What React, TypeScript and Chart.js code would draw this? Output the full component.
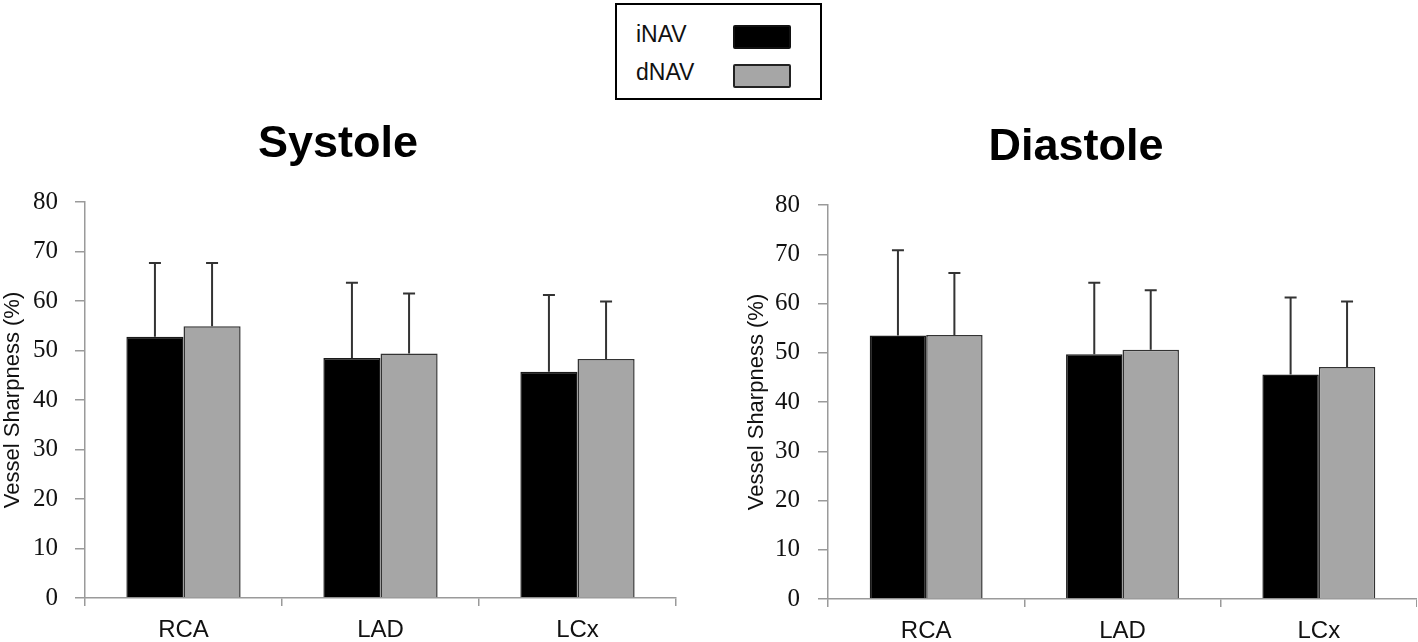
import React, { useEffect, useRef } from "react";
import { Chart, registerables } from "chart.js";

Chart.register(...registerables);

const categories = ["RCA", "LAD", "LCx"];
const seriesNames = ["iNAV", "dNAV"];

const systoleINAV = [52.8, 48.5, 45.7];
const systoleINAVsd = [14.9, 15.2, 15.5];
const systoleDNAV = [54.9, 49.4, 48.3];
const systoleDNAVsd = [12.8, 12.1, 11.6];

const diastoleINAV = [53.5, 49.7, 45.6];
const diastoleINAVsd = [17.3, 14.5, 15.6];
const diastoleDNAV = [53.6, 50.6, 47.1];
const diastoleDNAVsd = [12.6, 12.1, 13.3];

const yTicksMin = 0;
const yTicksMax = 80;
const yTicksStep = 10;

const SANS = "'Liberation Sans', Arial, sans-serif";
const SERIF = "'Liberation Serif', 'Times New Roman', serif";

const errorBarPlugin = {
  id: "errorBars",
  afterDatasetsDraw(chart: any) {
    const ctx = chart.ctx;
    const yScale = chart.scales.y;
    chart.data.datasets.forEach((ds: any, di: number) => {
      const meta = chart.getDatasetMeta(di);
      if (meta.hidden) return;
      meta.data.forEach((bar: any, i: number) => {
        const v = ds.data[i];
        const sd = ds.errors[i];
        const yTop = yScale.getPixelForValue(v + sd);
        const yBase = yScale.getPixelForValue(v);
        ctx.save();
        ctx.strokeStyle = "#333";
        ctx.lineWidth = 2;
        ctx.beginPath();
        ctx.moveTo(bar.x, yBase);
        ctx.lineTo(bar.x, yTop);
        ctx.moveTo(bar.x - 6, yTop);
        ctx.lineTo(bar.x + 6, yTop);
        ctx.stroke();
        ctx.restore();
      });
    });
  },
};

type PanelProps = {
  title: string;
  inav: number[];
  inavSd: number[];
  dnav: number[];
  dnavSd: number[];
  left: number;
  top: number;
  width: number;
  height: number;
  yWidth: number;
  xHeight: number;
  padRight: number;
  titlePadTop: number;
  titlePadBottom: number;
  yTitlePad: number;
  yTickPad: number;
  catPct: number;
};

function Panel(p: PanelProps) {
  const ref = useRef<HTMLCanvasElement | null>(null);
  useEffect(() => {
    if (!ref.current) return;
    const chart = new Chart(ref.current, {
      type: "bar",
      data: {
        labels: categories,
        datasets: [
          {
            label: seriesNames[0],
            data: p.inav,
            errors: p.inavSd,
            backgroundColor: "#000000",
            borderColor: "#1a1a1a",
            borderWidth: 1.5,
            categoryPercentage: p.catPct,
            barPercentage: 1.0,
          } as any,
          {
            label: seriesNames[1],
            data: p.dnav,
            errors: p.dnavSd,
            backgroundColor: "#a6a6a6",
            borderColor: "#333333",
            borderWidth: 1.5,
            categoryPercentage: p.catPct,
            barPercentage: 1.0,
          } as any,
        ],
      },
      options: {
        responsive: false,
        animation: false,
        layout: { padding: { left: 0, right: p.padRight, top: 0, bottom: 0 } },
        plugins: {
          legend: { display: false },
          tooltip: { enabled: false },
          title: {
            display: true,
            text: p.title,
            color: "#000",
            font: { family: SANS, size: 45, weight: "bold" },
            padding: { top: p.titlePadTop, bottom: p.titlePadBottom },
          },
        },
        scales: {
          x: {
            offset: true,
            grid: {
              display: true,
              drawOnChartArea: false,
              drawTicks: true,
              tickLength: 8,
              color: "#9a9a9a",
              lineWidth: 1.5,
              offset: true,
            },
            border: { display: true, color: "#9a9a9a", width: 1.5 },
            ticks: {
              color: "#111",
              font: { family: SANS, size: 24 },
              padding: 10,
              maxRotation: 0,
            },
            afterFit(scale: any) {
              scale.height = p.xHeight;
            },
          },
          y: {
            min: yTicksMin,
            max: yTicksMax,
            grid: {
              display: true,
              drawOnChartArea: false,
              drawTicks: true,
              tickLength: 10,
              color: "#9a9a9a",
              lineWidth: 1.5,
            },
            border: { display: true, color: "#9a9a9a", width: 1.5 },
            ticks: {
              stepSize: yTicksStep,
              color: "#111",
              font: { family: SERIF, size: 25 },
              padding: p.yTickPad,
            },
            title: {
              display: true,
              text: "Vessel Sharpness (%)",
              color: "#111",
              font: { family: SANS, size: 22 },
              padding: { top: p.yTitlePad, bottom: 0 },
            },
            afterFit(scale: any) {
              scale.width = p.yWidth;
            },
          },
        },
      } as any,
      plugins: [errorBarPlugin],
    });
    return () => chart.destroy();
  }, []);
  return (
    <canvas
      ref={ref}
      width={p.width}
      height={p.height}
      style={{ position: "absolute", left: p.left, top: p.top, width: p.width, height: p.height }}
    />
  );
}

function Legend() {
  const swatch = (bg: string, border: string, top: number) => ({
    position: "absolute" as const,
    left: 116,
    top,
    width: 58,
    height: 24,
    background: bg,
    border: `2px solid ${border}`,
    borderRadius: 2,
    boxSizing: "border-box" as const,
  });
  const label = {
    position: "absolute" as const,
    left: 19,
    fontFamily: SANS,
    fontSize: 23,
    lineHeight: "26px",
    color: "#111",
  };
  return (
    <div
      style={{
        position: "absolute",
        left: 615,
        top: 3,
        width: 207,
        height: 97,
        border: "2px solid #000",
        boxSizing: "border-box",
        background: "#fff",
      }}
    >
      <div style={{ ...label, top: 16 }}>{seriesNames[0]}</div>
      <div style={swatch("#000", "#111", 20)} />
      <div style={{ ...label, top: 54 }}>{seriesNames[1]}</div>
      <div style={swatch("#a6a6a6", "#222", 59)} />
    </div>
  );
}

export default function App() {
  return (
    <div style={{ position: "absolute", left: 0, top: 0, width: 1418, height: 642, background: "#fff", overflow: "hidden" }}>
      <Legend />
      <Panel
        title="Systole"
        inav={systoleINAV}
        inavSd={systoleINAVsd}
        dnav={systoleDNAV}
        dnavSd={systoleDNAVsd}
        left={0}
        top={110}
        width={680}
        height={532}
        yWidth={85}
        xHeight={44}
        padRight={4}
        titlePadTop={8}
        titlePadBottom={30}
        yTitlePad={0}
        yTickPad={17}
        catPct={0.58}
      />
      <Panel
        title="Diastole"
        inav={diastoleINAV}
        inavSd={diastoleINAVsd}
        dnav={diastoleDNAV}
        dnavSd={diastoleDNAVsd}
        left={735}
        top={112}
        width={682}
        height={530}
        yWidth={93}
        xHeight={43}
        padRight={0}
        titlePadTop={9}
        titlePadBottom={30}
        yTitlePad={9}
        yTickPad={18}
        catPct={0.575}
      />
    </div>
  );
}
